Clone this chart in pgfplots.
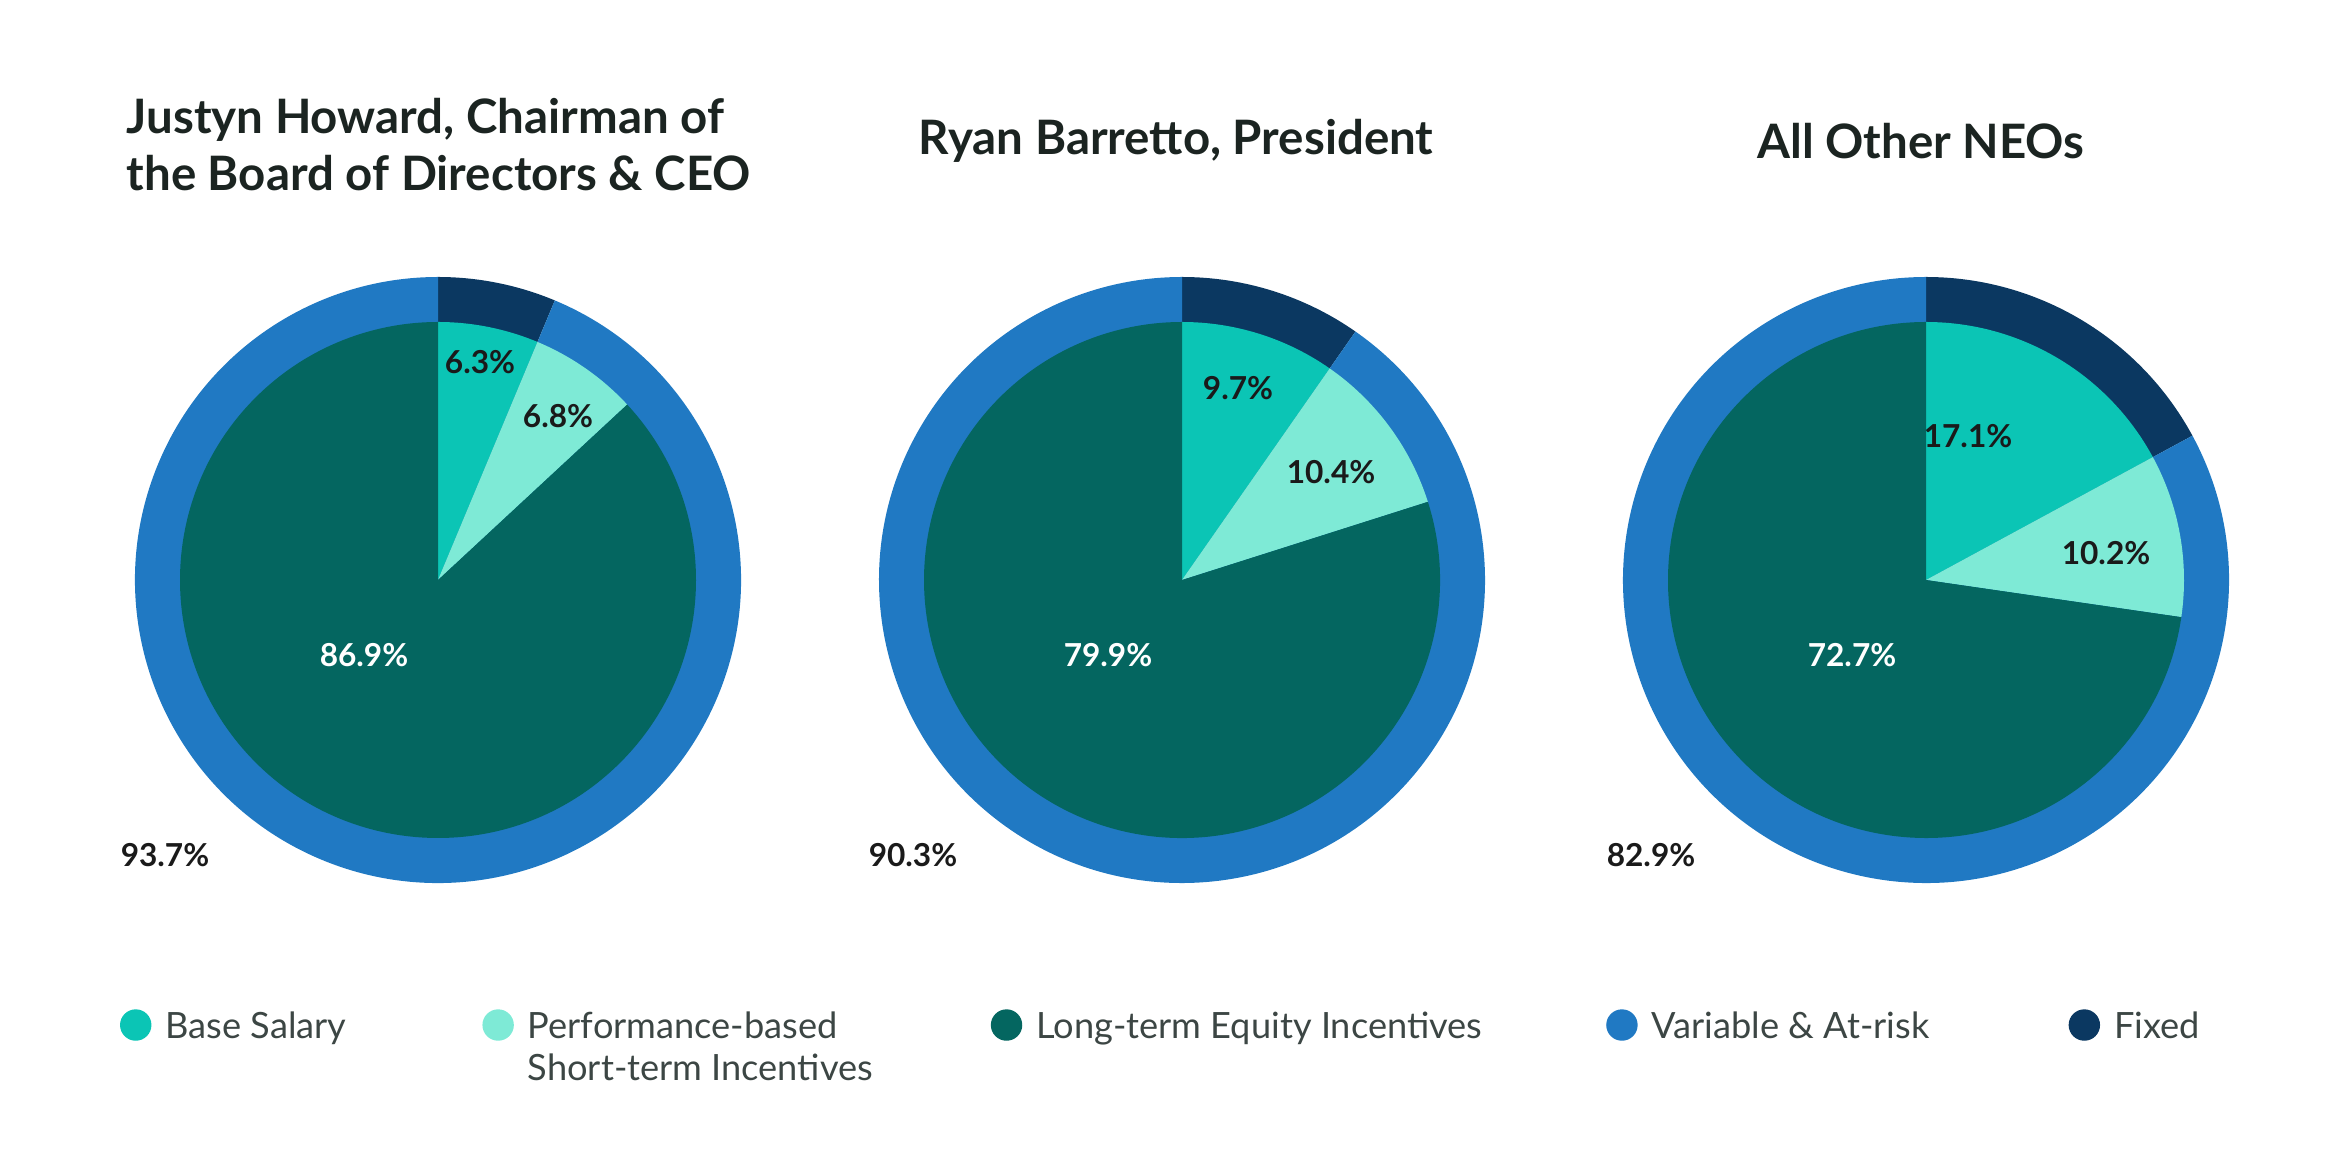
\documentclass[border=0pt]{standalone}
\usepackage{fontspec}
\setmainfont{Lato}
\usepackage{pgfplots}
\usepackage{pgfplotstable}
\pgfplotsset{compat=1.18}

\definecolor{baseC}{HTML}{0BC5B5}
\definecolor{stiC}{HTML}{7EEAD6}
\definecolor{ltiC}{HTML}{046660}
\definecolor{varC}{HTML}{2079C3}
\definecolor{fixC}{HTML}{0B3861}
\definecolor{titleC}{HTML}{1B2421}
\definecolor{legC}{HTML}{3C4644}
\definecolor{labC}{HTML}{1A1A1A}

% rows: base salary, short-term incentives, long-term equity, fixed, variable
% dx, dy: label offset from the pie centre (cm)
\pgfplotstableread{
part  value dx    dy
base  6.3   0.42  2.18
sti   6.8   1.20  1.64
lti   86.9  -0.74 -0.75
fixed 6.3   0     0
var   93.7  -2.73 -2.75
}\howard
\pgfplotstableread{
part  value dx    dy
base  9.7   0.56  1.92
sti   10.4  1.49  1.08
lti   79.9  -0.74 -0.75
fixed 9.7   0     0
var   90.3  -2.69 -2.75
}\barretto
\pgfplotstableread{
part  value dx    dy
base  17.1  0.42  1.44
sti   10.2  1.80  0.27
lti   72.7  -0.74 -0.75
fixed 17.1  0     0
var   82.9  -2.75 -2.75
}\others

\def\Ro{3.03}
\def\Ri{2.58}

\newcommand\getv[4]{\pgfplotstablegetelem{#1}{#2}\of#3\edef#4{\pgfplotsretval}}

% colour, cx, cy, radius, start angle, end angle
\newcommand\slice[6]{%
  \pgfmathsetmacro\sx{#2+#4*cos(#5)}\pgfmathsetmacro\sy{#3+#4*sin(#5)}%
  \fill[#1] (axis cs:#2,#3) -- (axis cs:\sx,\sy)
    arc[start angle=#5, end angle=#6, radius=#4cm] -- cycle;}

% table, row, cx, cy, text colour
\newcommand\plabel[5]{%
  \getv{#2}{value}{#1}\lv \getv{#2}{dx}{#1}\ldx \getv{#2}{dy}{#1}\ldy
  \pgfmathsetmacro\lx{#3+\ldx}\pgfmathsetmacro\ly{#4+\ldy}%
  \node[font=\bfseries\fontsize{9}{11}\selectfont, text=#5]
    at (axis cs:\lx,\ly) {\lv\%};}

\newcommand\piechart[3]{%
  \getv{0}{value}{#1}\vBase \getv{1}{value}{#1}\vSti
  \getv{2}{value}{#1}\vLti  \getv{3}{value}{#1}\vFix
  \pgfmathsetmacro\aB{90-3.6*\vBase}%
  \pgfmathsetmacro\aC{\aB-3.6*\vSti}%
  \pgfmathsetmacro\aD{\aC-3.6*\vLti}%
  \pgfmathsetmacro\aF{90-3.6*\vFix}%
  \slice{fixC}{#2}{#3}{\Ro}{90}{\aF}%
  \slice{varC}{#2}{#3}{\Ro}{\aF}{-270}%
  \slice{baseC}{#2}{#3}{\Ri}{90}{\aB}%
  \slice{stiC}{#2}{#3}{\Ri}{\aB}{\aC}%
  \slice{ltiC}{#2}{#3}{\Ri}{\aC}{\aD}%
  \plabel{#1}{0}{#2}{#3}{labC}%
  \plabel{#1}{1}{#2}{#3}{labC}%
  \plabel{#1}{2}{#2}{#3}{white}%
  \plabel{#1}{4}{#2}{#3}{labC}%
}

\pgfplotsset{
  dot/.style={legend image code/.code={\fill[#1] (0.15cm,0cm) circle (0.15cm);}},
}

\begin{document}
\begin{tikzpicture}
\path[use as bounding box] (0,0) rectangle (23.26,11.72);
\begin{axis}[
  hide axis, clip=false,
  x=1cm, y=1cm, xmin=0, xmax=23.26, ymin=0, ymax=11.72,
  anchor=south west, at={(0,0)},
  legend columns=5,
  legend cell align=left,
  legend style={draw=none, fill=none, inner sep=0pt, outer sep=0pt,
    at={(axis description cs:0.0516,0.1254)}, anchor=west,
    cells={anchor=west},
    nodes={inner sep=0pt, text depth=0pt, text=legC,
      font=\fontsize{10.3}{12.5}\selectfont},
    /tikz/every odd column/.append style={column sep=0.14cm}},
]
\pgfplotsextra{\piechart{\howard}{4.38}{5.92}}
\pgfplotsextra{\piechart{\barretto}{11.82}{5.92}}
\pgfplotsextra{\piechart{\others}{19.26}{5.92}}

\node[anchor=west, align=left, inner sep=0pt, text=titleC,
  font=\bfseries\fontsize{13.5}{16.2}\selectfont]
  at (axis cs:1.26,10.27) {Justyn Howard, Chairman of\\the Board of Directors \& CEO};
\node[text=titleC, font=\bfseries\fontsize{13.5}{16.2}\selectfont]
  at (axis cs:11.76,10.31) {Ryan Barretto, President};
\node[text=titleC, font=\bfseries\fontsize{13.5}{16.2}\selectfont]
  at (axis cs:19.21,10.31) {All Other NEOs};

\addlegendimage{dot=baseC}
\addlegendentry{\makebox[3.17cm][l]{Base Salary}}
\addlegendimage{dot=stiC}
\addlegendentry{\makebox[4.63cm][l]{\rlap{\raisebox{-0.42cm}[0pt][0pt]{Short-term Incentives}}Performance-based}}
\addlegendimage{dot=ltiC}
\addlegendentry{\makebox[5.70cm][l]{Long-term Equity Incentives}}
\addlegendimage{dot=varC}
\addlegendentry{\makebox[4.17cm][l]{Variable \& At-risk}}
\addlegendimage{dot=fixC}
\addlegendentry{\makebox[1.2cm][l]{Fixed}}
\end{axis}
\end{tikzpicture}
\end{document}
